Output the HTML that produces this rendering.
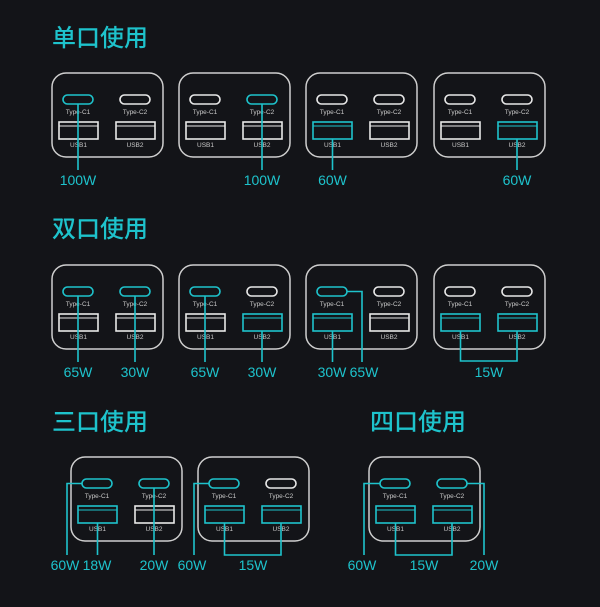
<!DOCTYPE html>
<html><head><meta charset="utf-8"><style>
html,body{margin:0;padding:0;background:#131418;}
svg{display:block}
.h{font-family:"Liberation Sans","Noto Sans CJK SC",sans-serif;font-size:24px;fill:#1ec3cc;font-weight:500}
.w{font-family:"Liberation Sans",sans-serif;font-size:14px;fill:#1ec3cc}
.s{font-family:"Liberation Sans",sans-serif;font-size:6.5px;fill:#c8c8c8}
</style></head><body>
<svg width="600" height="607" viewBox="0 0 600 607" xmlns="http://www.w3.org/2000/svg">
<rect width="600" height="607" fill="#131418"/>
<text class="h" x="52" y="46">单口使用</text>
<text class="h" x="52" y="237">双口使用</text>
<text class="h" x="52" y="430">三口使用</text>
<text class="h" x="370" y="430">四口使用</text>
<defs>
<g id="box"><rect x="0" y="0" width="111" height="84" rx="14" fill="none" stroke="#cfcfcf" stroke-width="1.5"/>
<text class="s" x="26" y="41" text-anchor="middle">Type-C1</text>
<text class="s" x="83" y="41" text-anchor="middle">Type-C2</text>
<text class="s" x="26.5" y="74" text-anchor="middle">USB1</text>
<text class="s" x="83" y="74" text-anchor="middle">USB2</text></g>
</defs>
<g id="all" fill="none" stroke-width="1.6"></g>
<script>
var C='#1ec3cc',W='#e8e8e8',g=document.getElementById('all'),ns='http://www.w3.org/2000/svg';
function el(t,a){var e=document.createElementNS(ns,t);for(var k in a)e.setAttribute(k,a[k]);g.appendChild(e);return e}
function box(L,T,c1,c2,u1,u2){var u=el('use',{href:'#box',x:L,y:T});
el('rect',{x:L+11,y:T+22,width:30,height:9,rx:4.5,stroke:c1?C:W});
el('rect',{x:L+68,y:T+22,width:30,height:9,rx:4.5,stroke:c2?C:W});
[[L+7,u1],[L+64,u2]].forEach(function(p){el('rect',{x:p[0],y:T+49,width:39,height:17,stroke:p[1]?C:W});el('line',{x1:p[0],y1:T+53,x2:p[0]+39,y2:T+53,stroke:p[1]?C:W,'stroke-width':1})});}
function ln(pts){el('polyline',{points:pts,stroke:C})}
function tx(x,y,s){var t=el('text',{x:x,y:y,'text-anchor':'middle','class':'w'});t.textContent=s;t.setAttribute('stroke','none')}
var X=[52,179,306,434];
var T=73;box(X[0],T,1,0,0,0);box(X[1],T,0,1,0,0);box(X[2],T,0,0,1,0);box(X[3],T,0,0,0,1);
ln(X[0]+26+','+(T+31)+' '+(X[0]+26)+',170');tx(X[0]+26,185,'100W');
ln(X[1]+83+','+(T+31)+' '+(X[1]+83)+',170');tx(X[1]+83,185,'100W');
ln(X[2]+26.5+','+(T+66)+' '+(X[2]+26.5)+',170');tx(X[2]+26.5,185,'60W');
ln(X[3]+83+','+(T+66)+' '+(X[3]+83)+',170');tx(X[3]+83,185,'60W');
T=265;box(X[0],T,1,1,0,0);box(X[1],T,1,0,0,1);box(X[2],T,1,0,1,0);box(X[3],T,0,0,1,1);
ln(X[0]+26+','+(T+31)+' '+(X[0]+26)+',362');tx(X[0]+26,377,'65W');
ln(X[0]+83+','+(T+31)+' '+(X[0]+83)+',362');tx(X[0]+83,377,'30W');
ln(X[1]+26+','+(T+31)+' '+(X[1]+26)+',362');tx(X[1]+26,377,'65W');
ln(X[1]+83+','+(T+66)+' '+(X[1]+83)+',362');tx(X[1]+83,377,'30W');
ln(X[2]+26.5+','+(T+66)+' '+(X[2]+26.5)+',362');tx(X[2]+26,377,'30W');
ln((X[2]+41)+','+(T+26.5)+' '+(X[2]+56)+','+(T+26.5)+' '+(X[2]+56)+',362');tx(X[2]+58,377,'65W');
ln((X[3]+26.5)+','+(T+66)+' '+(X[3]+26.5)+',361 '+(X[3]+83)+',361 '+(X[3]+83)+','+(T+66));tx(X[3]+55,377,'15W');
T=457;var A=71,B=198,D=369;
box(A,T,1,1,1,0);box(B,T,1,0,1,1);box(D,T,1,1,1,1);
ln((A+11)+','+(T+26.5)+' '+(A-4)+','+(T+26.5)+' '+(A-4)+',555');tx(A-6,570,'60W');
ln((A+26.5)+','+(T+66)+' '+(A+26.5)+',555');tx(A+26,570,'18W');
ln((A+83)+','+(T+31)+' '+(A+83)+',555');tx(A+83,570,'20W');
ln((B+11)+','+(T+26.5)+' '+(B-4)+','+(T+26.5)+' '+(B-4)+',555');tx(B-6,570,'60W');
ln((B+26.5)+','+(T+66)+' '+(B+26.5)+',555 '+(B+83)+',555 '+(B+83)+','+(T+66));tx(B+55,570,'15W');
ln((D+11)+','+(T+26.5)+' '+(D-5)+','+(T+26.5)+' '+(D-5)+',555');tx(D-7,570,'60W');
ln((D+26.5)+','+(T+66)+' '+(D+26.5)+',555 '+(D+83)+',555 '+(D+83)+','+(T+66));tx(D+55,570,'15W');
ln((D+98)+','+(T+26.5)+' '+(D+115)+','+(T+26.5)+' '+(D+115)+',555');tx(D+115,570,'20W');
</script>
</svg>
</body></html>
